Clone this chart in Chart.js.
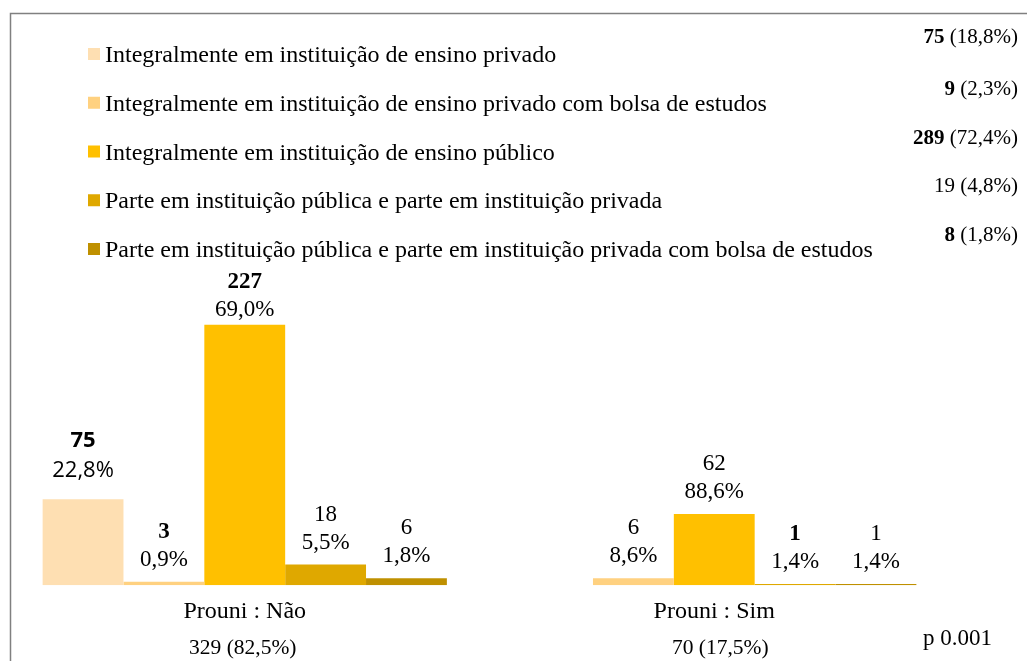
<!DOCTYPE html>
<html>
<head>
<meta charset="utf-8">
<script src="https://cdn.jsdelivr.net/npm/chart.js@4"></script>
<style>
html,body{margin:0;padding:0;background:#fff;}
#wrap{width:1027px;height:661px;position:relative;}
</style>
</head>
<body>
<div id="wrap"><canvas id="c" width="1027" height="661"></canvas></div>
<script>
// ---- data ----
const categories = ['Prouni : Não', 'Prouni : Sim'];
const categoryTotals = ['329 (82,5%)', '70 (17,5%)'];
const seriesNames = [
  'Integralmente em instituição de ensino privado',
  'Integralmente em instituição de ensino privado com bolsa de estudos',
  'Integralmente em instituição de ensino público',
  'Parte em instituição pública e parte em instituição privada',
  'Parte em instituição pública e parte em instituição privada com bolsa de estudos'
];
const naoCounts = [75, 3, 227, 18, 6];
const simCounts = [0, 6, 62, 1, 1];
const naoPct = ['22,8%', '0,9%', '69,0%', '5,5%', '1,8%'];
const simPct = ['', '8,6%', '88,6%', '1,4%', '1,4%'];
const seriesTotals = ['75', '9', '289', '19', '8'];
const seriesTotalPct = ['(18,8%)', '(2,3%)', '(72,4%)', '(4,8%)', '(1,8%)'];
const pValue = 'p 0.001';

// ---- styles ----
const seriesColors = ['#FEDFB2', '#FFD180', '#FFC000', '#DFA800', '#BF9000'];
const naoBold = [true, true, true, false, false];
const simBold = [false, false, false, true, false];
const totalBold = [true, true, true, false, true];
const SERIF = '"Liberation Serif", "Times New Roman", serif';
const SANS = '"Open Sans", "Liberation Sans", sans-serif';

const pctBySeries = seriesNames.map((_, i) => [naoPct[i], simPct[i]]);
const boldBySeries = seriesNames.map((_, i) => [naoBold[i], simBold[i]]);

const datasets = seriesNames.map((name, i) => ({
  label: name,
  data: [naoCounts[i], simCounts[i]],
  backgroundColor: seriesColors[i],
  borderWidth: 0,
  categoryPercentage: 0.861,
  barPercentage: 1.0
}));

const annotate = {
  id: 'annotate',
  beforeDraw(chart) {
    const ctx = chart.ctx;
    ctx.save();
    ctx.strokeStyle = '#808080';
    ctx.lineWidth = 1.5;
    ctx.beginPath();
    ctx.moveTo(10.5, 661);
    ctx.lineTo(10.5, 13.5);
    ctx.lineTo(1027, 13.5);
    ctx.stroke();
    ctx.restore();
  },
  afterDraw(chart) {
    const ctx = chart.ctx;
    ctx.save();
    // legend
    ctx.textBaseline = 'alphabetic';
    seriesNames.forEach((name, i) => {
      const base = 62 + i * 48.75;
      ctx.fillStyle = seriesColors[i];
      ctx.fillRect(88, base - 14, 12, 12);
      ctx.fillStyle = '#000';
      ctx.font = '24px ' + SERIF;
      ctx.textAlign = 'left';
      ctx.fillText(name, 105, base);
      // totals on right
      const tb = 43 + i * 48.75 + (i > 0 ? 3 : 0);
      ctx.textAlign = 'right';
      ctx.font = '21px ' + SERIF;
      const pctTxt = ' ' + seriesTotalPct[i];
      const pw = ctx.measureText(pctTxt).width;
      ctx.fillText(pctTxt, 1018, tb);
      ctx.font = (totalBold[i] ? 'bold ' : '') + '21px ' + SERIF;
      ctx.fillText(seriesTotals[i], 1018 - pw, tb);
    });
    // bar labels
    ctx.textAlign = 'center';
    ctx.textBaseline = 'middle';
    chart.data.datasets.forEach((ds, di) => {
      const meta = chart.getDatasetMeta(di);
      meta.data.forEach((bar, j) => {
        const pct = pctBySeries[di][j];
        if (!pct) return;
        const sans = (di === 0 && j === 0);
        const off1 = sans ? 28 : 22;
        const gap = sans ? 30 : 28;
        const fam = sans ? SANS : SERIF;
        const size = sans ? 22 : 23;
        // keep labels below the legend block
        const countY = Math.max(bar.y - off1 - gap, 282);
        const pctY = countY + gap;
        ctx.fillStyle = '#000';
        ctx.font = size + 'px ' + fam;
        ctx.fillText(pct, bar.x, pctY);
        ctx.font = (boldBySeries[di][j] ? 'bold ' : '') + size + 'px ' + fam;
        ctx.fillText(String(ds.data[j]), bar.x, countY);
      });
    });
    // category totals
    const xs = chart.scales.x;
    ctx.font = '21.5px ' + SERIF;
    categoryTotals.forEach((t, i) => {
      ctx.fillText(t, xs.getPixelForValue(i) + (i === 1 ? 6 : -2), 648);
    });
    // p value
    ctx.textAlign = 'left';
    ctx.font = '23px ' + SERIF;
    ctx.fillText(pValue, 923, 639);
    ctx.restore();
  }
};

new Chart(document.getElementById('c'), {
  type: 'bar',
  data: { labels: categories, datasets },
  options: {
    responsive: false,
    animation: false,
    layout: { padding: { top: 241, left: 10, right: 78, bottom: 23 } },
    plugins: { legend: { display: false }, tooltip: { enabled: false } },
    scales: {
      y: { display: false, min: 0, max: 300 },
      x: {
        grid: { display: false, drawTicks: false },
        border: { display: false },
        ticks: { color: '#000', font: { family: SERIF, size: 24 }, padding: 12 }
      }
    }
  },
  plugins: [annotate]
});
</script>
</body>
</html>
